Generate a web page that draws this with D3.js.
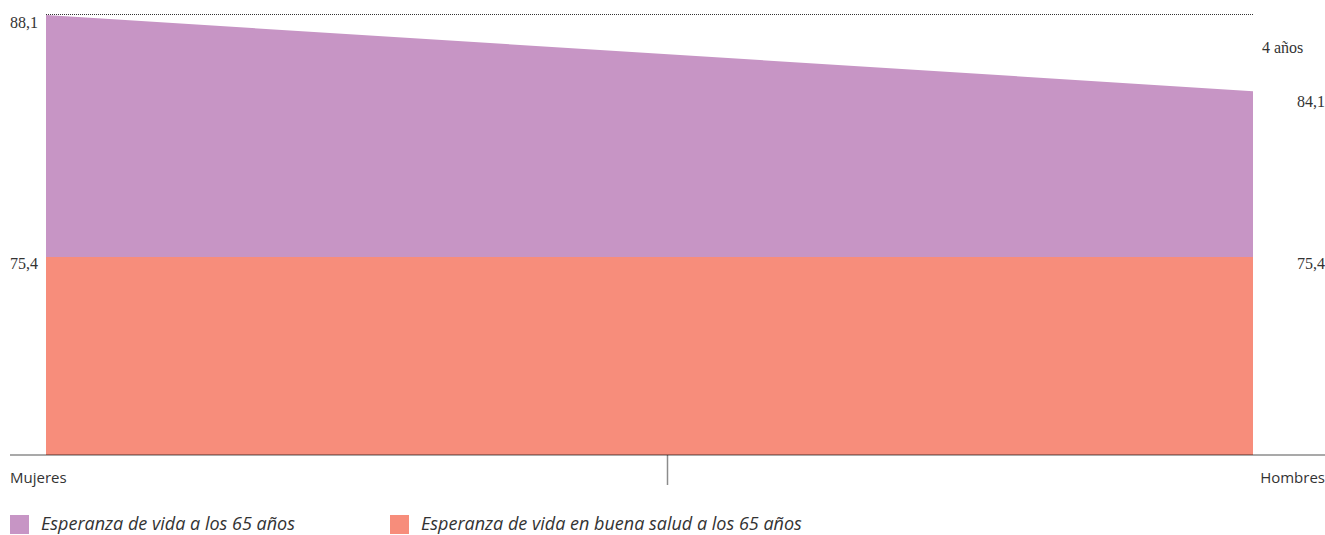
<!DOCTYPE html>
<html>
<head>
<meta charset="utf-8">
<script src="https://cdn.jsdelivr.net/npm/d3@7"></script>
<style>
  html, body { margin: 0; padding: 0; background: #fff; }
  svg { display: block; }
</style>
</head>
<body>
<svg id="chart" width="1325" height="535"></svg>
<script>
// Categories along the x axis
const categories = ["Mujeres", "Hombres"];
// Life expectancy at 65 (total years)
const lifeExpectancy = [88.1, 84.1];
// Healthy life expectancy at 65 (total years)
const healthyLifeExpectancy = [75.4, 75.4];
// Value labels as printed
const lifeLabels = ["88,1", "84,1"];
const healthyLabels = ["75,4", "75,4"];
const gapLabel = "4 años";
const legendLabels = ["Esperanza de vida a los 65 años", "Esperanza de vida en buena salud a los 65 años"];
const baseAge = 65;

const colors = { life: "#c795c5", healthy: "#f78d7b" };

const svg = d3.select("#chart");
const W = 1325;

const x = d3.scalePoint().domain(categories).range([46, 1253]);
const xAxisScale = d3.scalePoint().domain(categories).range([10, W]);
const y = d3.scaleLinear().domain([baseAge, lifeExpectancy[0]]).range([455, 15]);

const rows = categories.map((c, i) => ({
  cat: c,
  life: lifeExpectancy[i],
  healthy: healthyLifeExpectancy[i]
}));

// Total life expectancy area
svg.append("path")
  .datum(rows)
  .attr("fill", colors.life)
  .attr("d", d3.area().x(d => x(d.cat)).y0(y(baseAge)).y1(d => y(d.life)));

// Healthy life expectancy area
svg.append("path")
  .datum(rows)
  .attr("fill", colors.healthy)
  .attr("d", d3.area().x(d => x(d.cat)).y0(y(baseAge)).y1(d => y(d.healthy)));

// Dotted reference line at the highest value
svg.append("line")
  .attr("x1", x(categories[0])).attr("x2", x(categories[1]))
  .attr("y1", y(lifeExpectancy[0]) - 0.5).attr("y2", y(lifeExpectancy[0]) - 0.5)
  .attr("stroke", "#333").attr("stroke-width", 1).attr("stroke-dasharray", "1,1");

// Value labels
const serif = "'Liberation Serif', 'DejaVu Serif', serif";
const valueText = (tx, ty, txt, anchor) => svg.append("text")
  .attr("x", tx).attr("y", ty).attr("text-anchor", anchor)
  .attr("font-family", serif).attr("font-size", 16).attr("fill", "#333").text(txt);

valueText(x(categories[0]) - 8, y(lifeExpectancy[0]) + 13, lifeLabels[0], "end");
valueText(x(categories[0]) - 8, y(healthyLifeExpectancy[0]) + 12, healthyLabels[0], "end");
valueText(W, y(lifeExpectancy[1]) + 16, lifeLabels[1], "end");
valueText(W, y(healthyLifeExpectancy[1]) + 12, healthyLabels[1], "end");
valueText(x(categories[1]) + 9, (y(lifeExpectancy[0]) + y(lifeExpectancy[1])) / 2, gapLabel, "start");

// X axis
const axisY = y(baseAge);
const axisG = svg.append("g");
axisG.append("line")
  .attr("x1", xAxisScale.range()[0]).attr("x2", xAxisScale.range()[1])
  .attr("y1", axisY).attr("y2", axisY)
  .attr("stroke", "#000").attr("stroke-opacity", 0.45).attr("stroke-width", 1.5);
const mid = (xAxisScale.range()[0] + xAxisScale.range()[1]) / 2;
axisG.append("line")
  .attr("x1", mid).attr("x2", mid).attr("y1", axisY).attr("y2", axisY + 30)
  .attr("stroke", "#000").attr("stroke-opacity", 0.45).attr("stroke-width", 1.5);

const sans = "'Open Sans', 'Noto Sans', sans-serif";
axisG.selectAll("text.cat")
  .data(categories)
  .join("text")
  .attr("class", "cat")
  .attr("x", d => xAxisScale(d))
  .attr("y", axisY + 28)
  .attr("text-anchor", (d, i) => i === 0 ? "start" : "end")
  .attr("font-family", sans).attr("font-size", 15).attr("fill", "#333")
  .text(d => d);

// Legend
const legendX = [10, 390];
const legendColors = [colors.life, colors.healthy];
const legend = svg.append("g").selectAll("g")
  .data(legendLabels)
  .join("g")
  .attr("transform", (d, i) => `translate(${legendX[i]},515)`);
legend.append("rect")
  .attr("width", 19).attr("height", 19)
  .attr("fill", (d, i) => legendColors[i]);
legend.append("text")
  .attr("x", 31).attr("y", 15)
  .attr("font-family", sans).attr("font-style", "italic")
  .attr("font-size", 18).attr("fill", "#333")
  .text(d => d);
</script>
</body>
</html>
